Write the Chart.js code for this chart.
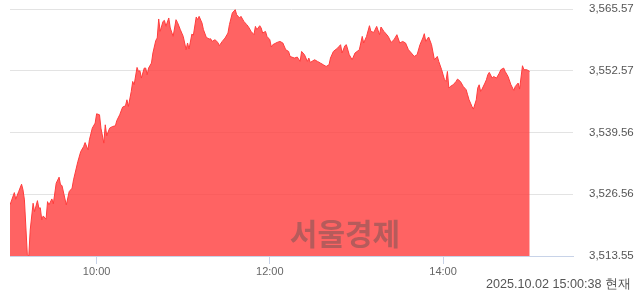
<!DOCTYPE html>
<html>
<head>
<meta charset="utf-8">
<script src="https://cdn.jsdelivr.net/npm/chart.js@4/dist/chart.umd.min.js"></script>
<style>
  html, body { margin: 0; padding: 0; background: #fff; }
  #wrap { width: 640px; height: 294px; }
</style>
</head>
<body>
<div id="wrap"><canvas id="kospiChart" width="640" height="294"></canvas></div>
<script>
  // minutes after 09:00 and index level at that minute
  const minutes = [
    0, 3, 4, 6, 8, 9, 10, 12, 13, 14,
    16, 17, 19, 20, 21, 22, 23, 25, 26, 27,
    29, 30, 32, 34, 35, 36, 39, 41, 43, 44,
    47, 49, 51, 52, 54, 55, 57, 59, 60, 62,
    63, 65, 66, 67, 69, 71, 73, 74, 76, 78,
    80, 81, 82, 84, 85, 86, 88, 89, 90, 91,
    93, 94, 95, 96, 98, 99, 101, 102, 103, 104,
    106, 107, 108, 110, 111, 113, 115, 116, 118, 120,
    122, 123, 124, 126, 127, 129, 130, 131, 133, 134,
    136, 138, 139, 140, 142, 144, 145, 147, 149, 151,
    152, 154, 156, 157, 159, 160, 162, 164, 165, 167,
    169, 170, 171, 173, 174, 175, 177, 178, 180, 181,
    182, 185, 187, 189, 191, 193, 194, 197, 199, 201,
    202, 204, 206, 207, 208, 211, 213, 215, 217, 219,
    221, 222, 224, 227, 229, 230, 232, 233, 235, 237,
    239, 242, 244, 245, 247, 249, 250, 252, 254, 256,
    257, 259, 260, 262, 264, 266, 268, 270, 272, 274,
    276, 278, 280, 282, 284, 286, 287, 288, 290, 292,
    294, 296, 297, 299, 301, 302, 303, 304, 305, 307,
    309, 310, 312, 314, 316, 317, 318, 319, 320, 321,
    323, 324, 325, 326, 327, 329, 330, 331, 332, 334,
    335, 337, 339, 340, 342, 343, 345, 347, 349, 350,
    352, 353, 355, 356, 358, 360
  ];
  const prices = [
    3524.31, 3526.90, 3525.51, 3527.11, 3528.67, 3527.47, 3525.36, 3513.80, 3513.55, 3519.03,
    3524.66, 3522.89, 3525.21, 3523.61, 3523.70, 3521.14, 3521.99, 3521.29, 3525.00, 3524.31,
    3525.57, 3524.52, 3528.88, 3530.15, 3528.52, 3528.40, 3524.31, 3527.11, 3527.83, 3529.58,
    3533.44, 3535.55, 3536.60, 3537.44, 3535.90, 3538.01, 3540.48, 3541.54, 3543.50, 3543.29,
    3540.48, 3537.32, 3541.18, 3538.86, 3540.48, 3540.82, 3540.97, 3542.08, 3543.29, 3544.91,
    3545.18, 3546.45, 3545.04, 3548.20, 3550.31, 3549.61, 3553.26, 3552.42, 3552.56, 3551.02,
    3553.13, 3553.13, 3551.72, 3553.13, 3554.19, 3556.30, 3558.95, 3559.46, 3563.47, 3560.85,
    3562.96, 3563.17, 3561.91, 3563.68, 3561.57, 3559.80, 3563.32, 3562.75, 3561.21, 3559.80,
    3556.99, 3558.41, 3557.14, 3560.30, 3560.00, 3563.89, 3563.32, 3564.02, 3562.62, 3561.21,
    3559.59, 3559.25, 3559.30, 3558.74, 3559.10, 3558.53, 3557.84, 3558.74, 3559.46, 3560.51,
    3562.27, 3564.73, 3565.43, 3564.37, 3563.68, 3564.02, 3562.96, 3562.27, 3561.91, 3560.85,
    3560.16, 3561.91, 3561.21, 3562.05, 3561.57, 3560.51, 3560.85, 3559.80, 3559.10, 3557.56,
    3558.05, 3558.53, 3558.74, 3558.41, 3556.99, 3556.63, 3555.58, 3555.24, 3555.45, 3554.53,
    3556.63, 3555.94, 3554.53, 3555.24, 3554.31, 3554.88, 3554.53, 3554.19, 3553.83, 3553.47,
    3553.83, 3555.24, 3556.63, 3557.35, 3558.05, 3556.30, 3557.84, 3558.05, 3555.94, 3554.88,
    3556.30, 3556.99, 3559.80, 3558.41, 3559.80, 3562.05, 3560.85, 3560.64, 3561.91, 3560.16,
    3561.78, 3560.85, 3560.51, 3559.80, 3558.53, 3559.10, 3560.16, 3558.41, 3558.74, 3558.41,
    3556.99, 3556.30, 3555.58, 3555.94, 3558.05, 3559.46, 3560.37, 3558.74, 3559.67, 3558.05,
    3554.88, 3555.58, 3554.53, 3552.78, 3550.67, 3550.31, 3552.42, 3548.92, 3549.25, 3549.61,
    3550.31, 3550.81, 3550.31, 3549.25, 3548.56, 3547.50, 3546.45, 3545.75, 3545.04, 3544.49,
    3546.45, 3548.92, 3549.61, 3548.20, 3548.70, 3549.97, 3550.67, 3551.72, 3552.21, 3551.02,
    3551.36, 3551.02, 3552.08, 3552.78, 3553.13, 3552.42, 3551.36, 3549.61, 3548.41, 3549.25,
    3549.97, 3548.71, 3553.62, 3552.78, 3552.78, 3552.42
  ];

  // axis ticks
  const yTicks = [3513.55, 3526.56, 3539.56, 3552.57, 3565.57];
  const xTickMinutes = [60, 180, 300];
  const xTickLabels = ["10:00", "12:00", "14:00"];

  const watermark = "서울경제";
  const stamp = "2025.10.02 15:00:38 현재";

  const labelFont = "'Liberation Sans', Arial, sans-serif";

  // watermark + time stamp
  const overlay = {
    id: "overlay",
    afterDatasetsDraw(chart) {
      const { ctx, chartArea } = chart;
      ctx.save();
      ctx.font = "bold 30px 'Noto Sans CJK KR', sans-serif";
      ctx.fillStyle = "rgba(80, 80, 80, 0.42)";
      ctx.textAlign = "center";
      ctx.textBaseline = "middle";
      ctx.fillText(watermark, chartArea.left + 335, chartArea.bottom - 22);
      ctx.restore();
    },
    afterDraw(chart) {
      const { ctx } = chart;
      ctx.save();
      ctx.font = "12.6px " + labelFont;
      ctx.fillStyle = "#555";
      ctx.textAlign = "right";
      ctx.textBaseline = "middle";
      ctx.fillText(stamp, 631, 285);
      ctx.restore();
    },
  };

  const ctx = document.getElementById("kospiChart").getContext("2d");

  new Chart(ctx, {
    type: "line",
    data: {
      datasets: [
        {
          data: minutes.map((m, i) => ({ x: m, y: prices[i] })),
          borderColor: "#ff3c3c",
          borderWidth: 1,
          backgroundColor: "rgba(255, 60, 60, 0.8)",
          fill: "start",
          pointRadius: 0,
          tension: 0,
        },
      ],
    },
    options: {
      responsive: false,
      animation: false,
      layout: { padding: { left: 10, top: 9, right: 0, bottom: 16 } },
      plugins: {
        legend: { display: false },
        tooltip: { enabled: false },
      },
      scales: {
        x: {
          type: "linear",
          min: 0,
          max: 390,
          afterBuildTicks: (s) => { s.ticks = xTickMinutes.map((v) => ({ value: v })); },
          afterFit: (s) => { s.height = 22; },
          grid: { drawOnChartArea: false, tickLength: 8, color: "#c8d3e8" },
          border: { color: "#c8d3e8" },
          ticks: {
            padding: 1,
            color: "#666",
            autoSkip: false,
            maxRotation: 0,
            font: { family: labelFont, size: 11 },
            callback: (v) => xTickLabels[xTickMinutes.indexOf(v)],
          },
        },
        y: {
          position: "right",
          min: 3513.55,
          max: 3565.57,
          afterBuildTicks: (s) => { s.ticks = yTicks.map((v) => ({ value: v })); },
          afterFit: (s) => { s.width = 67; },
          // invisible tick marks push the labels away from the plot
          grid: { color: "#e3e3e3", drawTicks: true, tickLength: 16, tickColor: "rgba(0,0,0,0)" },
          border: { display: false },
          ticks: {
            padding: 0,
            color: "#555",
            font: { family: labelFont, size: 11.5 },
            callback: (v) => v.toLocaleString("en-US", { minimumFractionDigits: 2, maximumFractionDigits: 2 }),
          },
        },
      },
    },
    plugins: [overlay],
  });
</script>
</body>
</html>
